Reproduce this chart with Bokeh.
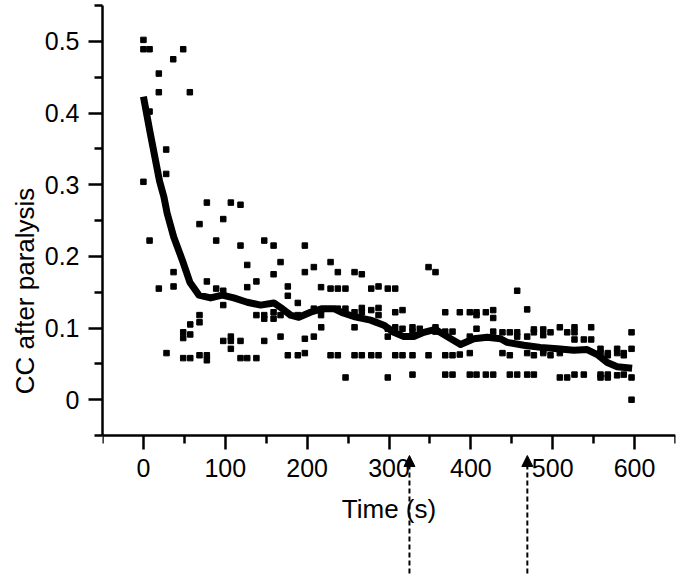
from bokeh.plotting import figure
from bokeh.models import FixedTicker, Range1d, Arrow, NormalHead, CustomJSTickFormatter
from bokeh.embed import file_html
from bokeh.resources import INLINE

# Scatter data (time in s, CC after paralysis)
pts_x = [0, 0, 7.5, 48.6, 36.4, 18.8, 18.8, 56.7, 7.5, 27.8, 27.8, 0,
         7.5, 77.5, 106.8, 118.6, 68.5, 97.5, 88.9, 118.6, 147.6, 159, 197.2, 126.8, 167.5, 228.6, 208.2,
         197.2, 237.5, 159, 36.8, 36.8, 18.8, 77.5, 88.9, 97.5, 126.8, 138, 176.4, 176.4, 188.6, 217,
         228.6, 237.5, 246.8, 97.5, 68.5, 68.5, 57.2, 48.6, 48.6, 57.2, 28.2, 48.6, 57.2, 68.5, 77.5,
         77.5, 97.5, 106.8, 106.8, 106.8, 118.6, 118.6, 126.8, 138, 147.6, 138, 147.6, 147.6, 159, 159,
         167.5, 176.4, 188.6, 197.2, 197.2, 208.2, 217.2, 228.6, 237.5, 246.9, 167.5, 188.6, 208.2, 217,
         237.5, 246.8,
         257.9, 266.8, 348.3, 356.8, 278.3, 287.2, 298.5, 307.6, 217, 257.9, 266.8, 266.8, 278.3, 287.2,
         287.2, 307.6, 316.5, 257.9, 257.9, 266.8, 278.3, 287.2, 298.5, 298.5, 307.6, 316.5, 307.6, 316.5,
         328.7, 298.5, 328.7, 328.7, 337.6, 348.3, 328.7, 356.8, 356.8, 368.7, 368.7, 377.6, 368.7, 377.6,
         386.5, 368.7, 377.6, 386.5, 398.7, 406.9, 406.9, 418.3, 427.3, 427.3, 398.7, 406.9, 398.7, 427.3,
         398.7, 406.9, 418.3, 427.3,
         456.6, 468.8, 438.6, 447.6, 456.6, 456.6, 468.8, 477, 477, 488.4, 488.4, 497.3, 508.7, 517.7,
         526.6, 526.6, 526.6, 538, 547, 547, 596.3, 596.3, 438.6, 447.6, 468.8, 477, 488.4, 488.4, 497.3,
         508.7, 558.4, 558.4, 567.3, 567.3, 578.7, 578.7, 586.8, 586.8, 447.6, 456.6, 468.8, 477, 508.7,
         517.7, 526.6, 538, 558.4, 558.4, 567.3, 567.3, 578.7, 586.8, 596.3, 596.3]
pts_y = [0.502, 0.489, 0.489, 0.489, 0.475, 0.455, 0.429, 0.429, 0.402, 0.349, 0.315, 0.304,
         0.222, 0.275, 0.275, 0.272, 0.245, 0.252, 0.222, 0.215, 0.222, 0.215, 0.215, 0.188, 0.192, 0.192, 0.185,
         0.178, 0.178, 0.175, 0.178, 0.158, 0.155, 0.165, 0.155, 0.152, 0.157, 0.165, 0.158, 0.145, 0.135, 0.157,
         0.155, 0.155, 0.155, 0.132, 0.118, 0.108, 0.105, 0.094, 0.086, 0.091, 0.065, 0.058, 0.058, 0.062, 0.062,
         0.055, 0.082, 0.088, 0.082, 0.071, 0.082, 0.058, 0.058, 0.058, 0.082, 0.118, 0.118, 0.113, 0.122, 0.113,
         0.088, 0.062, 0.062, 0.065, 0.085, 0.088, 0.101, 0.062, 0.062, 0.031, 0.118, 0.118, 0.127, 0.118,
         0.127, 0.127,
         0.178, 0.175, 0.185, 0.178, 0.155, 0.158, 0.155, 0.155, 0.125, 0.122, 0.128, 0.122, 0.125, 0.128,
         0.118, 0.122, 0.125, 0.101, 0.062, 0.062, 0.062, 0.062, 0.099, 0.088, 0.101, 0.099, 0.062, 0.062,
         0.062, 0.031, 0.101, 0.095, 0.099, 0.062, 0.035, 0.101, 0.095, 0.122, 0.095, 0.095, 0.062, 0.062,
         0.063, 0.035, 0.035, 0.122, 0.122, 0.122, 0.118, 0.122, 0.125, 0.114, 0.088, 0.099, 0.065, 0.095,
         0.035, 0.035, 0.035, 0.035,
         0.152, 0.126, 0.094, 0.094, 0.094, 0.088, 0.088, 0.098, 0.094, 0.098, 0.090, 0.094, 0.101, 0.094,
         0.101, 0.094, 0.084, 0.084, 0.084, 0.101, 0.094, 0.071, 0.065, 0.062, 0.065, 0.062, 0.068, 0.065, 0.062,
         0.065, 0.071, 0.065, 0.065, 0.062, 0.071, 0.065, 0.065, 0.062, 0.035, 0.035, 0.035, 0.035, 0.031,
         0.031, 0.035, 0.035, 0.035, 0.031, 0.035, 0.031, 0.034, 0.035, 0.031, 0.0]

# Smoothed curve
line_x = [0, 8.3, 19.7, 25, 29, 37, 47.4, 56.7, 67.7, 82, 96.3, 110.4, 126.8, 143, 159.3, 169.6, 179.7,
          189.8, 204.1, 218.4, 232.6, 244, 257, 277.4, 293.7, 305.9, 318.1, 330.3, 342.5, 356.8, 371.1,
          387.4, 403.6, 420, 436.2, 444.4, 464.7, 485, 505.5, 525.8, 542, 554.4, 566.6, 578.8, 597]
line_y = [0.423, 0.372, 0.305, 0.283, 0.26, 0.227, 0.195, 0.164, 0.146, 0.142, 0.146, 0.142, 0.136,
          0.132, 0.135, 0.127, 0.118, 0.115, 0.122, 0.127, 0.127, 0.121, 0.116, 0.111, 0.104, 0.094,
          0.088, 0.088, 0.094, 0.098, 0.088, 0.077, 0.085, 0.087, 0.085, 0.080, 0.076, 0.073, 0.071,
          0.069, 0.070, 0.063, 0.052, 0.046, 0.044]

# Arrows marking times (below the time axis)
arrow_x = [325, 469]
arrow_y_start = -0.2426
arrow_y_end = -0.0779

x_major = [0, 100, 200, 300, 400, 500, 600]
x_minor = [-50, 50, 150, 250, 350, 450, 550, 650]
y_major = [0, 0.1, 0.2, 0.3, 0.4, 0.5]
y_minor = [-0.05, 0.05, 0.15, 0.25, 0.35, 0.45, 0.55]
y_axis_bounds = (-0.05, 0.55)

FONT = "Liberation Sans"

p = figure(width=684, height=578, output_backend="svg", toolbar_location=None,
           x_range=Range1d(-50, 650), y_range=Range1d(-0.2467, 0.55),
           min_border_left=102, min_border_right=9, min_border_top=5, min_border_bottom=2)
p.outline_line_color = None
p.xgrid.visible = False
p.ygrid.visible = False

p.scatter(pts_x, pts_y, marker="square", size=5.5, color="black")
p.line(line_x, line_y, line_width=7, color="black", line_join="round")

for ax in (p.xaxis[0], p.yaxis[0]):
    ax.axis_line_width = 2.5
    ax.major_tick_line_width = 2.5
    ax.minor_tick_line_width = 2.5
    ax.major_tick_in = 0
    ax.minor_tick_in = 0
    ax.major_tick_out = 14
    ax.minor_tick_out = 8
    ax.major_label_text_font = FONT
    ax.major_label_text_font_size = "25px"
    ax.major_label_text_color = "black"
    ax.axis_label_text_font = FONT
    ax.axis_label_text_font_size = "26px"
    ax.axis_label_text_font_style = "normal"
    ax.axis_label_text_color = "black"

p.xaxis.ticker = FixedTicker(ticks=x_major, minor_ticks=x_minor)
p.yaxis.ticker = FixedTicker(ticks=y_major, minor_ticks=y_minor)
p.yaxis.formatter = CustomJSTickFormatter(code="return String(tick);")
p.xaxis.formatter = CustomJSTickFormatter(code="return String(tick);")
p.xaxis.fixed_location = -0.05
p.yaxis.bounds = y_axis_bounds
p.xaxis.axis_label = "Time (s)"
p.yaxis.axis_label = "CC after paralysis"
p.xaxis.major_label_standoff = 9
p.yaxis.major_label_standoff = 9
p.xaxis.axis_label_standoff = 14
p.yaxis.axis_label_standoff = 2

for ax_x in arrow_x:
    p.add_layout(Arrow(end=NormalHead(size=11, fill_color="black", line_color="black", line_width=1),
                       x_start=ax_x, y_start=arrow_y_start, x_end=ax_x, y_end=arrow_y_end,
                       line_width=2, line_dash="5 3", line_color="black"))

open("out.html", "w").write(file_html(p, INLINE))
